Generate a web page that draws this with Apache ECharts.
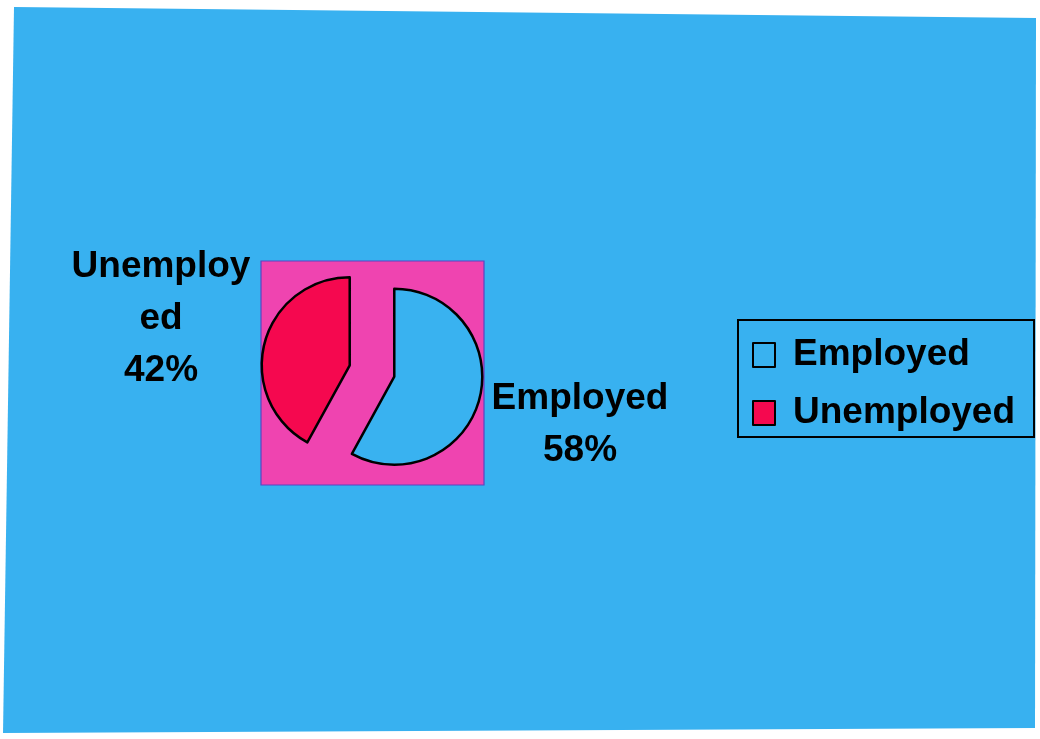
<!DOCTYPE html>
<html>
<head>
<meta charset="utf-8">
<style>
  html, body { margin: 0; padding: 0; background: #ffffff; }
  #chart { width: 1040px; height: 739px; }
</style>
<script src="https://cdn.jsdelivr.net/npm/echarts@6/dist/echarts.min.js"></script>
</head>
<body>
<div id="chart"></div>
<script>
// Labour-force split shown as an exploded two-slice pie
const categories = ['Employed', 'Unemployed'];
const shares = [58, 42];
const sliceColors = ['#39b2f0', '#f5084f'];

const FONT = '"Liberation Sans", Arial, sans-serif';
const LABEL_FONT = 'bold 37px ' + FONT;
const chart = echarts.init(document.getElementById('chart'), null, { renderer: 'canvas' });

// centre point of each slice's label, by slice index
const labelSpots = [
  { x: 580, y: 425 },
  { x: 161, y: 319 }
];

const total = shares.reduce((a, b) => a + b, 0);
const sliceLabels = categories.map((name, i) => ({
  type: 'text',
  z: 10,
  silent: true,
  style: {
    text: name + '\n' + Math.round(shares[i] / total * 100) + '%',
    x: labelSpots[i].x,
    y: labelSpots[i].y,
    align: 'center',
    verticalAlign: 'middle',
    font: LABEL_FONT,
    lineHeight: 52,
    width: 188,
    overflow: 'breakAll',
    fill: '#000'
  }
}));

const pieData = categories.map((name, i) => ({
  name: name,
  value: shares[i],
  selected: true,
  itemStyle: { color: sliceColors[i] },
  select: { itemStyle: { color: sliceColors[i], borderColor: '#000', borderWidth: 2.5 } }
}));

chart.setOption({
  backgroundColor: '#ffffff',
  animation: false,
  graphic: [
    {
      // slightly skewed page fill
      type: 'polygon',
      z: -10,
      shape: { points: [[14, 7], [1036, 18], [1035, 728], [3, 733]] },
      style: { fill: '#38b1f0' },
      silent: true
    },
    {
      // plot area behind the pie
      type: 'rect',
      z: -5,
      shape: { x: 261, y: 261, width: 223, height: 224 },
      style: { fill: '#ef44b0', stroke: '#5b45c0', lineWidth: 1.2 },
      silent: true
    }
  ].concat(sliceLabels),
  legend: {
    orient: 'vertical',
    left: 738,
    top: 320,
    padding: [15, 19, 4, 14],
    itemGap: 18,
    itemWidth: 22,
    itemHeight: 24,
    icon: 'rect',
    borderColor: '#000',
    borderWidth: 2,
    selectedMode: false,
    data: categories,
    itemStyle: { borderColor: '#000', borderWidth: 2 },
    textStyle: {
      fontFamily: FONT,
      fontWeight: 'bold',
      fontSize: 37,
      color: '#000',
      lineHeight: 40,
      padding: [0, 0, 0, 13]
    }
  },
  series: [
    {
      type: 'pie',
      center: [372, 371],
      radius: 88,
      startAngle: 90,
      clockwise: true,
      selectedMode: 'multiple',
      selectedOffset: 23,
      emphasis: { disabled: true },
      itemStyle: { borderColor: '#000', borderWidth: 2.5 },
      label: { show: false },
      labelLine: { show: false },
      data: pieData
    }
  ]
});
</script>
</body>
</html>
